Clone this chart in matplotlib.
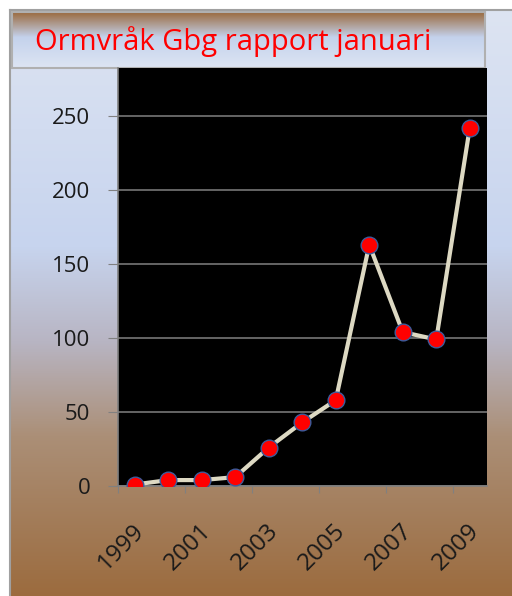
import numpy as np
import matplotlib.pyplot as plt
import matplotlib.transforms as mtransforms
from matplotlib.colors import LinearSegmentedColormap

# data
years = ['1999', '2000', '2001', '2002', '2003', '2004',
         '2005', '2006', '2007', '2008', '2009']
counts = [1, 4, 4, 6, 26, 43, 58, 163, 104, 99, 242]
yticks = [0, 50, 100, 150, 200, 250]
title = 'Ormvråk Gbg rapport januari'

plt.rcParams['font.family'] = ['Open Sans', 'DejaVu Sans']

W, H = 512, 596
fig = plt.figure(figsize=(W / 100, H / 100), dpi=100, facecolor='white')

# chart area background gradient (light blue top -> brown bottom)
bg_cmap = LinearSegmentedColormap.from_list('bg', [
    (0.0, '#dde4f2'), (0.40, '#c7d4ee'), (0.56, '#b8b5c3'),
    (0.72, '#ab8f77'), (1.0, '#9b6a3c')])
bg = fig.add_axes([10 / W, -0.01, 1.0, (H - 10) / H + 0.01])
bg.imshow(np.linspace(0, 1, 256).reshape(-1, 1), cmap=bg_cmap,
          aspect='auto', extent=[0, 1, 0, 1])
bg.set_xticks([])
bg.set_yticks([])
for s in bg.spines.values():
    s.set_color('#a0a0a0')
    s.set_linewidth(1.5)

# title box with its own gradient
tb_cmap = LinearSegmentedColormap.from_list('tb', [
    (0.0, '#9a6a3e'), (0.45, '#c4d2ec'), (1.0, '#dde5f3')])
tb = fig.add_axes([12 / W, (H - 68) / H, (485 - 12) / W, 56 / H])
tb.imshow(np.linspace(0, 1, 256).reshape(-1, 1), cmap=tb_cmap,
          aspect='auto', extent=[0, 1, 0, 1])
tb.set_xticks([])
tb.set_yticks([])
for s in tb.spines.values():
    s.set_color('#b0b0b0')
    s.set_linewidth(1.5)
tb.text(0.048, 0.47, title, color='#ff0000', fontsize=21,
        ha='left', va='center', transform=tb.transAxes)

# plot area
ax = fig.add_axes([118 / W, 110 / H, 368.5 / W, 418 / H])
ax.set_facecolor('black')
x = np.arange(len(years))
ax.plot(x, counts, color='#ddd9c3', lw=3, marker='o', ms=12,
        mfc='#ff0000', mec='#3d5b9b', mew=1, zorder=3)
ax.set_xlim(-0.5, len(years) - 0.5)
ax.set_ylim(0, 418 / 1.48)

ax.set_yticks(yticks)
ax.set_yticklabels([str(v) for v in yticks])
ax.yaxis.grid(True, color='#808080', lw=1.1)
ax.tick_params(axis='y', length=7, color='#808080', pad=13,
               labelsize=16, labelcolor='#1a1a1a')

ax.set_xticks(np.arange(-0.5, len(years), 2))
ax.set_xticklabels([])
ax.set_xticks(x[::2], minor=True)
ax.set_xticklabels(years[::2], minor=True, rotation=45, ha='right',
                   rotation_mode='anchor')
ax.tick_params(axis='x', which='major', length=5, color='#808080')
ax.tick_params(axis='x', which='minor', length=0, pad=24,
               labelsize=17.5, labelcolor='#1a1a1a')
shift = mtransforms.ScaledTranslation(-2 / 100, 0, fig.dpi_scale_trans)
for lbl in ax.get_xticklabels(minor=True):
    lbl.set_transform(lbl.get_transform() + shift)

for name in ['left', 'bottom']:
    ax.spines[name].set_color('#808080')
    ax.spines[name].set_linewidth(1.2)
ax.spines['top'].set_visible(False)
ax.spines['right'].set_visible(False)

fig.savefig('out.png', dpi=100, facecolor='white')
